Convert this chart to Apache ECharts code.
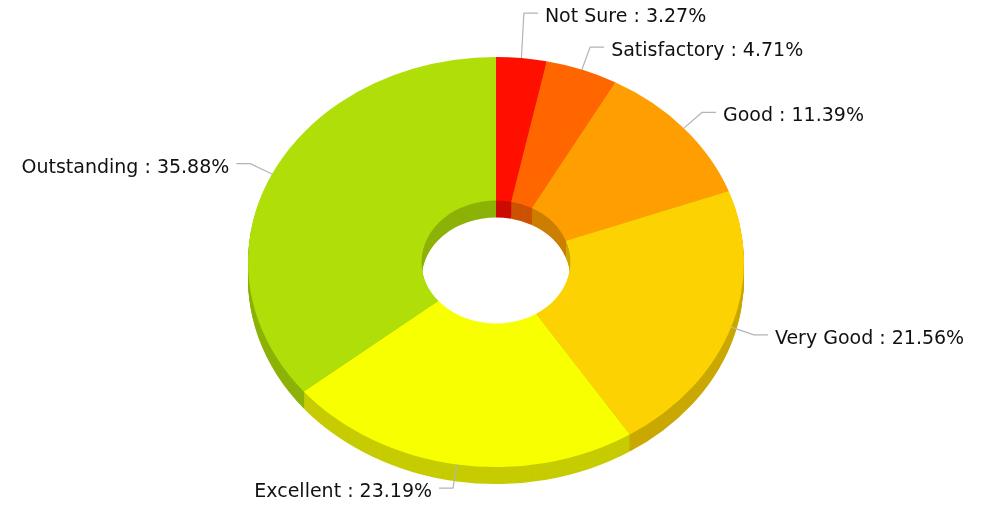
<!DOCTYPE html>
<html>
<head>
    <meta charset="utf-8" />
    <title></title>
    <script type="text/javascript" src="https://cdn.jsdelivr.net/npm/echarts@6/dist/echarts.min.js"></script>
    <style>
        html, body { margin: 0; padding: 0; background: #fff; }
        #chart { width: 982px; height: 506px; }
    </style>
</head>
<body>
    <div id="chart"></div>
    <script type="text/javascript">
        var names = ['Not Sure', 'Satisfactory', 'Good', 'Very Good', 'Excellent', 'Outstanding'];
        var values = [3.27, 4.71, 11.39, 21.56, 23.19, 35.88];
        var colors = ['#FF0F00', '#FF6600', '#FF9E01', '#FCD202', '#F8FF01', '#B0DE09'];

        // ellipse geometry of the tilted donut
        var cx = 496, cy = 262, rx = 248, ry = 205, hole = 0.3, depth = 17;
        var k = ry / rx;

        function darken(hex, f) {
            var n = parseInt(hex.slice(1), 16);
            var r = Math.round(((n >> 16) & 255) * f), g = Math.round(((n >> 8) & 255) * f), b = Math.round((n & 255) * f);
            return 'rgb(' + r + ',' + g + ',' + b + ')';
        }
        var sideColors = colors.map(function (c) { return darken(c, 0.8); });

        var total = values.reduce(function (a, b) { return a + b; }, 0);
        var slices = [];
        var acc = 0;
        values.forEach(function (v) {
            var a0 = acc / total * 360;
            acc += v;
            var a1 = acc / total * 360;
            var mid = (a0 + a1) / 2 * Math.PI / 180;
            slices.push({
                a0: a0, a1: a1,
                px: cx + rx * Math.sin(mid), py: cy - ry * Math.cos(mid),
                qx: cx + (rx + 24) * Math.sin(mid), qy: cy - (ry + 24) * Math.cos(mid),
                right: Math.sin(mid) >= 0
            });
        });
        // push labels apart on each side
        [true, false].forEach(function (side) {
            var list = slices.filter(function (s) { return s.right === side; }).sort(function (a, b) { return b.qy - a.qy; });
            for (var i = 1; i < list.length; i++) {
                if (list[i - 1].qy - list[i].qy < 34) list[i].qy = list[i - 1].qy - 34;
            }
        });

        function renderItem(params, api) {
            var i = params.dataIndex, s = slices[i];
            var sa = (s.a0 - 90) * Math.PI / 180, ea = (s.a1 - 90) * Math.PI / 180;
            var parts = [];
            for (var d = depth; d >= 1; d--) {
                parts.push({
                    type: 'sector',
                    shape: { cx: cx, cy: cy + d / k, r: rx, r0: rx * hole, startAngle: sa, endAngle: ea, clockwise: true },
                    style: { fill: sideColors[i] },
                    z2: 100 - d
                });
            }
            parts.push({
                type: 'sector',
                shape: { cx: cx, cy: cy, r: rx, r0: rx * hole, startAngle: sa, endAngle: ea, clockwise: true },
                style: { fill: colors[i] },
                z2: 200
            });
            var dir = s.right ? 1 : -1;
            var label = names[i] + ' : ' + api.value(0).toFixed(2) + '%';
            return {
                type: 'group',
                children: [
                    { type: 'group', originX: cx, originY: cy, scaleY: k, children: parts },
                    {
                        type: 'polyline',
                        shape: { points: [[s.px, s.py], [s.qx, s.qy], [s.qx + dir * 14, s.qy]] },
                        style: { stroke: '#b4b4b4', lineWidth: 1.2, fill: null },
                        z2: 300
                    },
                    {
                        type: 'text',
                        style: {
                            text: label, x: s.qx + dir * 21, y: s.qy + 4,
                            align: s.right ? 'left' : 'right', verticalAlign: 'middle',
                            fill: '#111', font: '19px Verdana, "DejaVu Sans", sans-serif'
                        },
                        z2: 300
                    }
                ]
            };
        }

        var myChart = echarts.init(document.getElementById('chart'));
        var option = {
            backgroundColor: '#fff',
            animation: false,
            series: [{
                type: 'custom',
                coordinateSystem: 'none',
                renderItem: renderItem,
                data: values
            }]
        };
        myChart.setOption(option);
    </script>
</body>
</html>
